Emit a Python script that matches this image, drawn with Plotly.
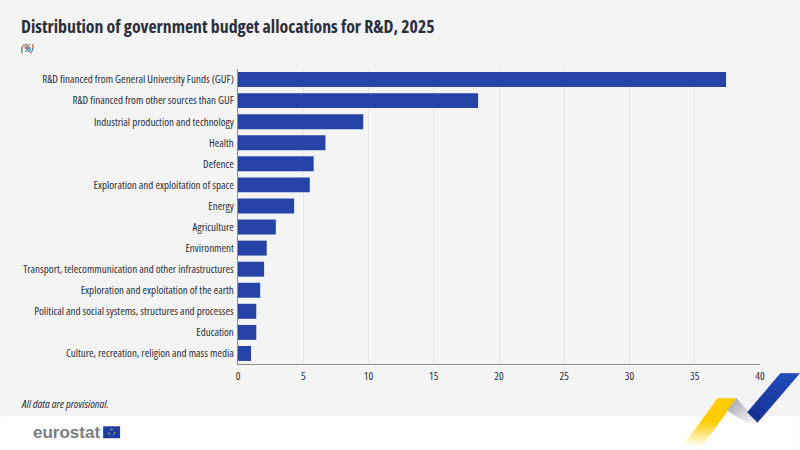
import plotly.graph_objects as go

# Values, biggest first
categories = [
    "R&D financed from General University Funds (GUF)",
    "R&D financed from other sources than GUF",
    "Industrial production and technology",
    "Health",
    "Defence",
    "Exploration and exploitation of space",
    "Energy",
    "Agriculture",
    "Environment",
    "Transport, telecommunication and other infrastructures",
    "Exploration and exploitation of the earth",
    "Political and social systems, structures and processes",
    "Education",
    "Culture, recreation, religion and mass media",
]
shares = [37.4, 18.4, 9.6, 6.7, 5.8, 5.5, 4.3, 2.9, 2.2, 2.0, 1.7, 1.4, 1.4, 1.0]
x_ticks = [0, 5, 10, 15, 20, 25, 30, 35, 40]

W, H = 800, 450
LEFT, RIGHT, TOP, BOTTOM = 238, 760.5, 68.5, 364.5
FONT = "Open Sans"
BG = "#F4F4F5"
TEXT = "#2A2F3A"
BAR = "#2644A7"


# paper coordinates are relative to the plot area, so convert from page pixels
def px_x(v):
    return (v - LEFT) / (RIGHT - LEFT)


def px_y(v):
    return (BOTTOM - v) / (BOTTOM - TOP)


def polygon(points, color):
    path = "M " + " L ".join(f"{px_x(x):.4f},{px_y(y):.4f}" for x, y in points) + " Z"
    return dict(type="path", xref="paper", yref="paper", path=path,
                fillcolor=color, line=dict(color=color, width=0.6), layer="above")


def mix(c1, c2, t):
    return "rgb(" + ",".join(str(round(a + (b - a) * t)) for a, b in zip(c1, c2)) + ")"


def lerp(p, q, t):
    return (p[0] + (q[0] - p[0]) * t, p[1] + (q[1] - p[1]) * t)


def ribbon(a0, b0, a1, b1, c0, c1, steps):
    # strip of small polygons standing in for a gradient
    out = []
    for i in range(steps):
        t0, t1 = i / steps, (i + 1) / steps
        out.append(polygon([lerp(a0, a1, t0), lerp(b0, b1, t0), lerp(b0, b1, t1), lerp(a0, a1, t1)],
                           mix(c0, c1, t1)))
    return out


fig = go.Figure(go.Bar(
    x=shares, y=categories, orientation="h",
    marker=dict(color=BAR, line_width=0), width=0.71,
))

shapes = [
    # white footer band
    dict(type="rect", xref="paper", yref="paper", x0=px_x(0), x1=px_x(W),
         y0=px_y(H), y1=px_y(417), fillcolor="white", line_width=0, layer="below"),
    # EU flag next to the logo
    dict(type="rect", xref="paper", yref="paper", x0=px_x(103), x1=px_x(120),
         y0=px_y(439), y1=px_y(427), fillcolor="#1F3D9E", line_width=0),
    dict(type="circle", xref="paper", yref="paper", x0=px_x(108.5), x1=px_x(114.5),
         y0=px_y(436), y1=px_y(430), line=dict(color="#C9C24A", width=1, dash="dot")),
]
shapes += ribbon((718, 399), (737, 399), (700.5, 423.5), (718.5, 424.5), (255, 204, 0), (255, 204, 0), 1)
shapes += ribbon((700.5, 423.5), (718.5, 424.5), (682, 448), (700, 450), (255, 204, 0), (255, 255, 255), 10)
shapes += ribbon((728, 411), (737, 399), (748, 424), (758, 423), (170, 170, 182), (240, 240, 243), 8)
shapes += ribbon((781, 374), (800, 374), (748, 413), (758, 423), (33, 78, 190), (20, 50, 150), 8)

annotations = [
    dict(text="<b>Distribution of government budget allocations for R&D, 2025</b>",
         x=px_x(19), y=px_y(25), font=dict(size=17.8, color=TEXT)),
    dict(text="<i>(%)</i>", x=px_x(19), y=px_y(47), font=dict(size=11.5, color=TEXT)),
    dict(text="<i>All data are provisional.</i>", x=px_x(19), y=px_y(404),
         font=dict(size=11.5, color=TEXT)),
    dict(text="<b>eurostat</b>", x=px_x(31), y=px_y(433),
         font=dict(size=17, color="#7B7E84", family="Liberation Sans")),
]
for a in annotations:
    a.update(xref="paper", yref="paper", showarrow=False, yanchor="middle",
             xanchor="left", align="left")

fig.update_layout(
    width=W, height=H,
    margin=dict(l=LEFT, r=W - RIGHT, t=TOP, b=H - BOTTOM, pad=0),
    paper_bgcolor=BG, plot_bgcolor=BG,
    font=dict(family=FONT, size=11, color=TEXT),
    showlegend=False,
    shapes=shapes,
    annotations=annotations,
    xaxis=dict(range=[0, 40], tickvals=x_ticks, showgrid=True, gridcolor="#E6E6E8",
               gridwidth=1, zeroline=False, showline=True, linecolor="#8A8D93",
               linewidth=1, ticks="", ticklabelstandoff=2, automargin=False,
               tickfont=dict(size=11, color=TEXT)),
    yaxis=dict(autorange="reversed", showgrid=False, zeroline=False, showline=True,
               linecolor="#8A8D93", linewidth=1, ticks="", automargin=False, ticklabelstandoff=1,
               tickfont=dict(size=11, color=TEXT)),
)

# drop the page margin and ask for the condensed cut of the font
page_css = """
document.body.style.margin = '0';
var s = document.createElement('style');
s.textContent = 'svg text {font-stretch: 75% !important;}';
document.head.appendChild(s);
"""
fig.write_html("out.html", config=dict(displayModeBar=False), post_script=page_css)
